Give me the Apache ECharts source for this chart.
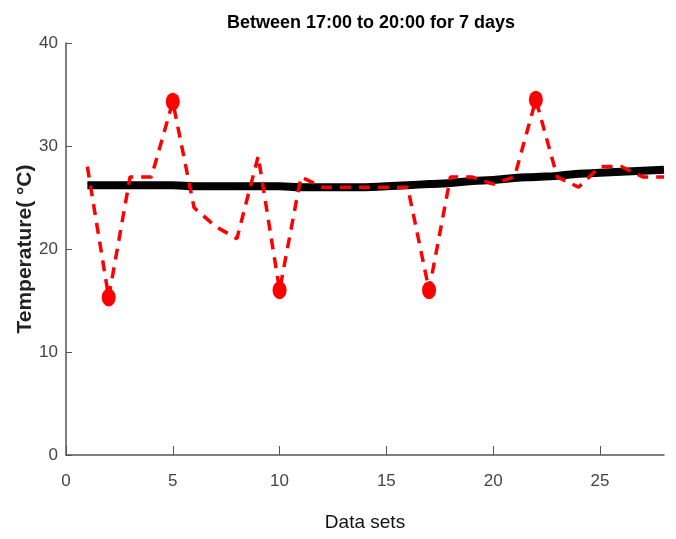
<!DOCTYPE html>
<html>
<head>
<meta charset="utf-8">
<script src="https://cdn.jsdelivr.net/npm/echarts@6/dist/echarts.min.js"></script>
<style>
  html, body { margin: 0; padding: 0; background: #fff; }
  #chart { width: 676px; height: 539px; }
</style>
</head>
<body>
<div id="chart"></div>
<script>
// data sets 1..28
const xs = [1, 2, 3, 4, 5, 6, 7, 8, 9, 10, 11, 12, 13, 14, 15, 16, 17, 18, 19, 20, 21, 22, 23, 24, 25, 26, 27, 28]
// measured temperature (red dashed)
const temps = [28, 15.3, 27, 27, 34.3, 24, 22.2, 21, 29, 16, 27, 26, 26, 26, 26, 26, 16, 27, 27, 26.3, 27, 34.5, 27, 26, 28, 28, 27, 27]
// smooth trend (black)
const trend = [26.2, 26.2, 26.2, 26.2, 26.2, 26.1, 26.1, 26.1, 26.1, 26.1, 26.0, 26.0, 26.0, 26.0, 26.1, 26.2, 26.3, 26.4, 26.6, 26.7, 26.9, 27.0, 27.1, 27.3, 27.4, 27.5, 27.6, 27.7]
// outlier points with markers
const outlierX = [2, 5, 10, 17, 22]
const xTicks = { min: 0, max: 28, interval: 5 }
const yTicks = { min: 0, max: 40, interval: 10 }

const font = '"Liberation Sans", Arial, sans-serif'

const chart = echarts.init(document.getElementById('chart'))

const option = {
  animation: false,
  title: {
    text: 'Between 17:00 to 20:00 for 7 days',
    left: 366,
    textAlign: 'center',
    top: 9,
    textStyle: { fontFamily: font, fontSize: 18, fontWeight: 'bold', color: '#000' }
  },
  grid: { left: 66, right: 12, top: 43, bottom: 84 },
  xAxis: {
    type: 'value',
    min: xTicks.min,
    max: xTicks.max,
    interval: xTicks.interval,
    name: 'Data sets',
    nameLocation: 'middle',
    nameGap: 58,
    nameTextStyle: { fontFamily: font, fontSize: 19, color: '#111' },
    axisLine: { lineStyle: { color: '#555', width: 1.5 } },
    axisTick: { inside: true, length: 9, lineStyle: { color: '#555' } },
    axisLabel: { fontFamily: font, fontSize: 17, color: '#444', margin: 18, showMaxLabel: false },
    splitLine: { show: false }
  },
  yAxis: {
    type: 'value',
    min: yTicks.min,
    max: yTicks.max,
    interval: yTicks.interval,
    name: 'Temperature( °C)',
    nameLocation: 'middle',
    nameGap: 30,
    nameMoveOverlap: false,
    nameTextStyle: { fontFamily: font, fontSize: 21, fontWeight: 'bold', color: '#222', padding: [0, 0, 0, 0] },
    axisLine: { show: true, lineStyle: { color: '#555', width: 1.5 } },
    axisTick: { show: true, inside: true, length: 6, lineStyle: { color: '#555' } },
    axisLabel: { fontFamily: font, fontSize: 17, color: '#444', margin: 8 },
    splitLine: { show: false }
  },
  series: [
    {
      name: 'trend',
      type: 'line',
      data: xs.map((x, i) => [x, trend[i]]),
      smooth: true,
      showSymbol: false,
      lineStyle: { color: '#000', width: 8 },
      z: 2
    },
    {
      name: 'temp',
      type: 'line',
      data: xs.map((x, i) => [x, temps[i]]),
      showSymbol: false,
      lineStyle: { color: '#f00', width: 3.5, type: [11, 8] },
      z: 3
    },
    {
      name: 'outliers',
      type: 'scatter',
      data: outlierX.map(x => [x, temps[xs.indexOf(x)]]),
      symbol: 'circle',
      symbolSize: [14, 18],
      itemStyle: { color: '#f00', opacity: 1 },
      z: 4
    }
  ]
}
chart.setOption(option)
</script>
</body>
</html>
